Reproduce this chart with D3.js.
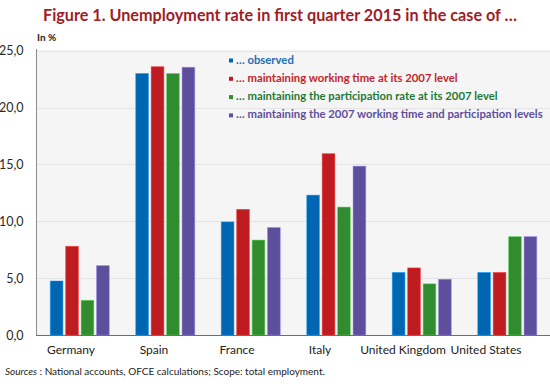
<!DOCTYPE html>
<html>
<head>
<meta charset="utf-8">
<script src="https://cdn.jsdelivr.net/npm/d3@7"></script>
<style>
  body { margin: 0; background: #fff; }
  svg { display: block; font-family: Lato, "Open Sans", sans-serif; }
</style>
</head>
<body>
<svg id="chart"></svg>
<script>
// unemployment rate, Q1 2015, four scenarios
const countries = ['Germany', 'Spain', 'France', 'Italy', 'United Kingdom', 'United States'];
const seriesNames = [
    '\u2026 observed',
    '\u2026 maintaining working time at its 2007 level',
    '\u2026 maintaining the participation rate at its 2007 level',
    '\u2026 maintaining the 2007 working time and participation levels',
];
const observed = [4.75, 23.0, 9.95, 12.3, 5.5, 5.5];
const workingTime = [7.8, 23.6, 11.05, 15.95, 5.9, 5.5];
const participation = [3.05, 23.0, 8.35, 11.25, 4.5, 8.65];
const both = [6.1, 23.55, 9.45, 14.85, 4.9, 8.65];
const yTicks = [0, 5, 10, 15, 20, 25];

const barColors = ['#0066b2', '#be1c20', '#318b2f', '#5d4f9c'];
const textColors = ['#1b6db4', '#c0262b', '#1e7a36', '#5d4f9c'];

const width = 550;
const height = 387;
const plot = { left: 37, right: 550, top: 50, bottom: 335 };

const svg = d3.select('#chart')
    .attr('width', width)
    .attr('height', height);

const values = [observed, workingTime, participation, both];

const x = d3.scaleBand()
    .domain(countries)
    .range([plot.left, plot.right])
    .paddingInner(0.31)
    .paddingOuter(0.155);

const xSub = d3.scaleBand()
    .domain(d3.range(seriesNames.length))
    .range([0, x.bandwidth()])
    .paddingInner(0.18);

// category labels sit a bit left of the bar groups in the original
const xLabel = d3.scalePoint()
    .domain(countries)
    .range([71, 486]);

const y = d3.scaleLinear()
    .domain([0, 25])
    .range([plot.bottom, plot.top + 0.8]);

// title
svg.append('text')
    .attr('x', 280)
    .attr('y', 21)
    .attr('text-anchor', 'middle')
    .style('font-size', '16.2px')
    .style('font-weight', 'bold')
    .style('fill', '#a01d26')
    .text('Figure 1. Unemployment rate in first quarter 2015 in the case of \u2026');

// plot background
svg.append('rect')
    .attr('x', plot.left)
    .attr('y', plot.top)
    .attr('width', plot.right - plot.left)
    .attr('height', plot.bottom - plot.top)
    .style('fill', '#f5f5f5');

// gridlines
svg.append('g')
    .selectAll('line')
    .data(yTicks.slice(1))
    .enter()
    .append('line')
    .attr('x1', plot.left)
    .attr('x2', plot.right)
    .attr('y1', (d) => Math.round(y(d)) + 0.5)
    .attr('y2', (d) => Math.round(y(d)) + 0.5)
    .style('stroke', '#e4e4e4')
    .style('stroke-width', 1);

// y axis
const yAxis = d3.axisLeft(y)
    .tickValues(yTicks)
    .tickSize(0)
    .tickPadding(13)
    .tickFormat((d) => d3.format('.1f')(d).replace('.', ','));

const gy = svg.append('g')
    .attr('transform', `translate(${plot.left - 0.5},0)`)
    .call(yAxis);
gy.select('.domain').remove();
gy.selectAll('text')
    .style('font-family', 'Lato, sans-serif')
    .style('font-size', '12.5px')
    .style('fill', '#2a2a2a');

svg.append('line')
    .attr('x1', plot.left - 0.5)
    .attr('x2', plot.left - 0.5)
    .attr('y1', plot.top - 1)
    .attr('y2', plot.bottom)
    .style('stroke', '#8c8c8c');

svg.append('text')
    .attr('x', 37)
    .attr('y', 41)
    .style('font-size', '10px')
    .style('font-weight', 'bold')
    .style('fill', '#222')
    .text('In %');

// bars
const groups = svg.append('g')
    .selectAll('g')
    .data(countries)
    .enter()
    .append('g')
    .attr('transform', (d) => `translate(${x(d)},0)`);

groups.selectAll('rect')
    .data((d, i) => values.map((s, k) => ({ k: k, v: s[i] })))
    .enter()
    .append('rect')
    .attr('x', (d) => xSub(d.k))
    .attr('y', (d) => y(d.v))
    .attr('width', xSub.bandwidth())
    .attr('height', (d) => plot.bottom - y(d.v))
    .style('fill', (d) => barColors[d.k])
    .style('stroke', (d) => d3.color(barColors[d.k]).brighter(1.2))
    .style('stroke-width', 0.8)
    .style('stroke-opacity', 0.6);

// x axis line
svg.append('line')
    .attr('x1', plot.left - 1)
    .attr('x2', plot.right)
    .attr('y1', plot.bottom + 0.5)
    .attr('y2', plot.bottom + 0.5)
    .style('stroke', '#6e6e6e')
    .style('stroke-width', 1.2);

svg.append('g')
    .selectAll('text')
    .data(countries)
    .enter()
    .append('text')
    .attr('x', (d) => xLabel(d))
    .attr('y', 354)
    .attr('text-anchor', 'middle')
    .style('font-size', '12px')
    .style('fill', '#222')
    .text((d) => d);

// legend
const legend = svg.append('g')
    .selectAll('g')
    .data(seriesNames)
    .enter()
    .append('g')
    .attr('transform', (d, i) => `translate(229,${59.5 + i * 18.3})`);

legend.append('rect')
    .attr('x', 0)
    .attr('y', -1)
    .attr('width', 4)
    .attr('height', 4)
    .style('fill', (d, i) => barColors[i]);

legend.append('text')
    .attr('x', 7)
    .attr('y', 4)
    .style('font-size', '11.3px')
    .style('font-weight', 'bold')
    .style('fill', (d, i) => textColors[i])
    .text((d) => d);

// source note
const note = svg.append('text')
    .attr('x', 5)
    .attr('y', 375)
    .style('font-size', '10px')
    .style('fill', '#222');
note.append('tspan').style('font-style', 'italic').text('Sources');
note.append('tspan').text(' : National accounts, OFCE calculations; Scope: total employment.');
</script>
</body>
</html>
